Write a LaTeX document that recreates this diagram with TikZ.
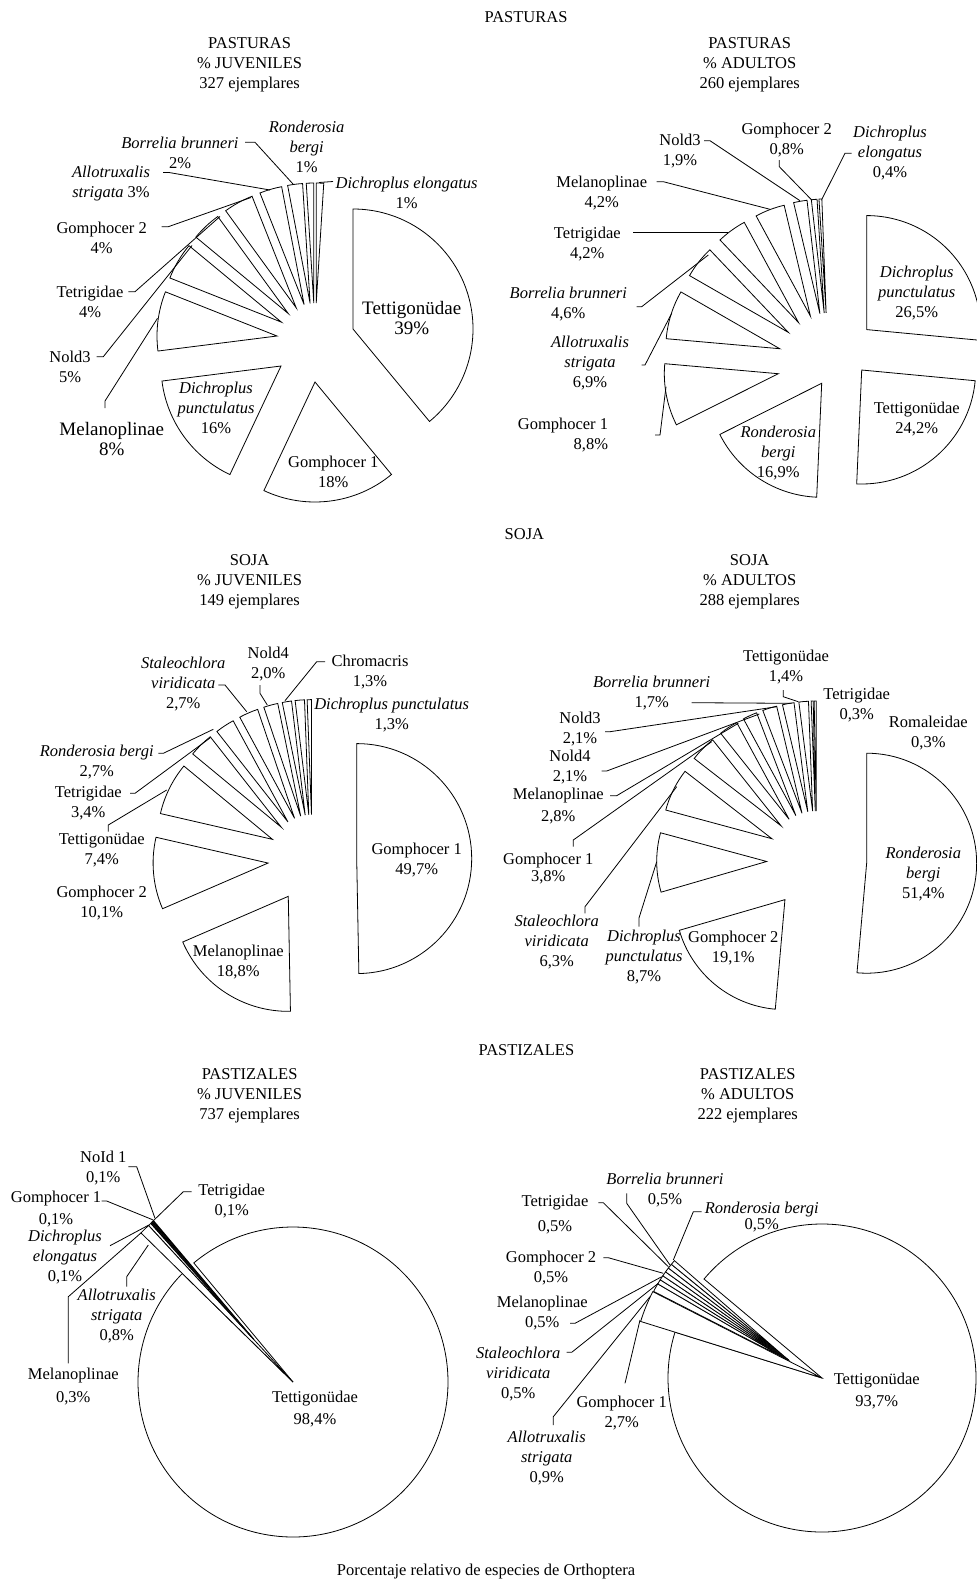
\documentclass[tikz,border=0pt]{standalone}
\usepackage{fontspec}
\setmainfont{Liberation Serif}
\usetikzlibrary{calc}
\tikzstyle{wedge} = [draw, fill=white, line width=0.8pt, line join=miter]
\tikzstyle{leader} = [draw, line width=0.8pt]
\tikzstyle{lbl} = [align=center, inner sep=0pt, font=\fontsize{16.5}{20}\selectfont]
\tikzstyle{lblbig} = [align=center, inner sep=0pt, font=\fontsize{19}{20}\selectfont]

% slice: [radius]{apex}{from %}{to %}, clockwise from 12 o'clock
\newcommand{\pslice}[4][\pierad]{%
  \draw[wedge] (#2) -- ++({90-\pierot-3.6*#3}:#1pt)
    arc[start angle={90-\pierot-3.6*#3}, end angle={90-\pierot-3.6*#4}, radius=#1pt] -- cycle;}
% slice pushed out from (ctr) along its middle
\newcommand{\xslice}[2]{\pslice{$(ctr)+({90-\pierot-1.8*(#1+#2)}:\piedex pt)$}{#1}{#2}}
\def\pierad{120}
\def\piedex{39}
\def\pierot{0}

\begin{document}
\begin{tikzpicture}[x=1pt, y=1pt]
\useasboundingbox (0,0) rectangle (977,-1585);
\fill[white] (0,0) rectangle (977,-1585);
\clip (0,0) rectangle (977,-1585);

% titles
\node[lbl] (t0) at (526,-17) {PASTURAS};
\node[lbl] (t1) at (249.6,-64.7) {PASTURAS\\\% JUVENILES\\327 ejemplares};
\node[lbl] (t2) at (749.7,-64.7) {PASTURAS\\\% ADULTOS\\260 ejemplares};
\node[lbl] (t3) at (524.4,-534.5) {SOJA};
\node[lbl] (t4) at (249.6,-582) {SOJA\\\% JUVENILES\\149 ejemplares};
\node[lbl] (t5) at (749.7,-582) {SOJA\\\% ADULTOS\\288 ejemplares};
\node[lbl] (t6) at (526.4,-1049.8) {PASTIZALES};
\node[lbl] (t7) at (249.6,-1095.3) {PASTIZALES\\\% JUVENILES\\737 ejemplares};
\node[lbl] (t8) at (747.7,-1095.3) {PASTIZALES\\\% ADULTOS\\222 ejemplares};
\node[lbl] (cap) at (486,-1572) {Porcentaje relativo de especies de Orthoptera};

% PASTURAS juveniles
\coordinate (ctr) at (315,-342);
\def\pierad{120}\def\piedex{39}\def\pierot{0}
\pslice{353,-329}{0}{39}
\pslice{315,-382}{39}{57}
\pslice{281,-366}{57}{73}
\pslice{277,-336}{73}{81}
\xslice{81}{86} \xslice{86}{90} \xslice{90}{94} \xslice{94}{97}
\xslice{97}{99} \xslice{99}{100} \xslice{100}{101}

\node[lbl] (p1rb) at (306.7,-146.7) {\textit{Ronderosia}\\\textit{bergi}\\1\%};
\node[lbl] (p1bb) at (180,-153) {\textit{Borrelia brunneri}\\2\%};
\node[lbl] (p1as) at (111,-183.3) {\textit{Allotruxalis}\\\textit{strigata} 3\%};
\node[lbl] (p1g2) at (101.7,-238.3) {Gomphocer 2\\4\%};
\node[lbl] (p1te) at (90,-301.7) {Tetrigidae\\4\%};
\node[lbl] (p1n3) at (70,-366.7) {Nold3\\5\%};
\node[lblbig] (p1me) at (111.7,-439) {Melanoplinae\\8\%};
\node[lblbig] (p1tt) at (411.7,-318.3) {Tettigonüdae\\39\%};
\node[lbl] (p1g1) at (333.3,-471.7) {Gomphocer 1\\18\%};
\node[lbl] (p1dp) at (216,-408.3) {\textit{Dichroplus}\\\textit{punctulatus}\\16\%};
\node[lbl] (p1de) at (406.7,-192.5) {\textit{Dichroplus elongatus}\\1\%};

\coordinate (p1bbs) at (245,-142.3); \coordinate (p1bbe) at (293,-184);
\coordinate (p1ass) at (163,-172.5); \coordinate (p1ase) at (270,-190);
\coordinate (p1g2s) at (161.7,-226.7); \coordinate (p1g2e) at (251,-197.5);
\coordinate (p1tes) at (128.3,-291.7); \coordinate (p1tee) at (220,-216.5);
\coordinate (p1n3s) at (96.7,-356.7); \coordinate (p1n3e) at (192,-245.5);
\coordinate (p1mes) at (105,-408); \coordinate (p1mee) at (157.5,-318.3);
\coordinate (p1des) at (333,-181.5); \coordinate (p1dee) at (319,-182.5);
\path[leader] (p1bbs) -- ++(10,0) -- (p1bbe);
\path[leader] (p1ass) -- ++(6,0) -- (p1ase);
\path[leader] (p1g2s) -- ++(6.6,0) -- (p1g2e);
\path[leader] (p1tes) -- ++(6.7,0) -- (p1tee);
\path[leader] (p1n3s) -- ++(6.6,0) -- (p1n3e);
\path[leader] (p1mes) -- ++(0,7) -- (p1mee);
\path[leader] (p1des) -- (p1dee);

% PASTURAS adultos
\coordinate (ctr) at (828.7,-364.1);
\def\pierad{114}\def\piedex{51.3}
\xslice{0}{26.5}
\pslice{861.7,-370}{26.5}{50.7}
\pslice{821.7,-383.3}{50.7}{67.6}
\xslice{67.6}{76.4} \xslice{76.4}{83.3} \xslice{83.3}{87.9} \xslice{87.9}{92.1}
\xslice{92.1}{96.3} \xslice{96.3}{98.2} \xslice{98.2}{99.0} \xslice{99.0}{99.4}

\node[lbl] (p2n3) at (680,-150.8) {Nold3\\1,9\%};
\node[lbl] (p2g2) at (786.7,-140) {Gomphocer 2\\0,8\%};
\node[lbl] (p2de) at (890,-153.3) {\textit{Dichroplus}\\\textit{elongatus}\\0,4\%};
\node[lbl] (p2me) at (601.7,-193.3) {Melanoplinae\\4,2\%};
\node[lbl] (p2te) at (587.3,-244) {Tetrigidae\\4,2\%};
\node[lbl] (p2bb) at (568.3,-303.7) {\textit{Borrelia brunneri}\\4,6\%};
\node[lbl] (p2as) at (590,-363.3) {\textit{Allotruxalis}\\\textit{strigata}\\6,9\%};
\node[lbl, align=right, anchor=east] (p2g1) at (608.3,-435) {Gomphocer 1\\8,8\%};
\node[lbl] (p2dp) at (916.7,-292.8) {\textit{Dichroplus}\\\textit{punctulatus}\\26,5\%};
\node[lbl] (p2tt) at (916.7,-419.2) {Tettigonüdae\\24,2\%};
\node[lbl] (p2rb) at (778.3,-452.6) {\textit{Ronderosia}\\\textit{bergi}\\16,9\%};

\coordinate (p2n3s) at (704,-140.7); \coordinate (p2n3e) at (800,-200.7);
\coordinate (p2g2s) at (779.3,-160); \coordinate (p2g2e) at (811.7,-200);
\coordinate (p2des) at (851.7,-153.3); \coordinate (p2dee) at (822,-199);
\coordinate (p2mes) at (656.7,-181.7); \coordinate (p2mee) at (770,-209.3);
\coordinate (p2tes) at (633.3,-232.3); \coordinate (p2tee) at (728,-232.3);
\coordinate (p2bbs) at (636.7,-306.7); \coordinate (p2bbe) at (708.3,-255);
\coordinate (p2ass) at (641.7,-365); \coordinate (p2ase) at (671.7,-313.3);
\coordinate (p2g1s) at (655,-435); \coordinate (p2g1e) at (666,-386.7);
\path[leader] (p2n3s) -- ++(6,0) -- (p2n3e);
\path[leader] (p2g2s) -- ++(0,-6.7) -- (p2g2e);
\path[leader] (p2des) -- ++(-6.7,0) -- (p2dee);
\path[leader] (p2mes) -- ++(6.6,0) -- (p2mee);
\path[leader] (p2tes) -- (p2tee);
\path[leader] (p2bbs) -- ++(5,0) -- (p2bbe);
\path[leader] (p2ass) -- ++(3.3,0) -- (p2ase);
\path[leader] (p2g1s) -- ++(5,0) -- (p2g1e);

% SOJA juveniles
\coordinate (ctr) at (312.3,-859);
\def\pierad{115}\def\piedex{44.4}
\xslice{0}{49.7} \xslice{49.7}{68.5} \xslice{68.5}{78.6} \xslice{78.6}{86}
\xslice{86}{89.4} \xslice{89.4}{92.1} \xslice{92.1}{94.8} \xslice{94.8}{96.8}
\xslice{96.8}{98.1} \xslice{98.1}{99.4} \xslice{99.4}{100}

\node[lbl] (p3n4) at (268.3,-664) {Nold4\\2,0\%};
\node[lbl] (p3ch) at (370,-671.7) {Chromacris\\1,3\%};
\node[lbl] (p3sv) at (183.3,-684) {\textit{Staleochlora}\\\textit{viridicata}\\2,7\%};
\node[lbl] (p3dp) at (391.7,-715) {\textit{Dichroplus punctulatus}\\1,3\%};
\node[lbl] (p3rb) at (96.7,-762.5) {\textit{Ronderosia bergi}\\2,7\%};
\node[lbl] (p3te) at (88.3,-803.3) {Tetrigidae\\3,4\%};
\node[lbl] (p3tt) at (101.7,-850) {Tettigonüdae\\7,4\%};
\node[lbl] (p3g2) at (101.7,-903.3) {Gomphocer 2\\10,1\%};
\node[lbl] (p3me) at (238.3,-961.7) {Melanoplinae\\18,8\%};
\node[lbl] (p3g1) at (416.7,-860) {Gomphocer 1\\49,7\%};

\coordinate (p3n4s) at (260,-685); \coordinate (p3n4e) at (267.3,-705);
\coordinate (p3chs) at (325,-661.7); \coordinate (p3che) at (285,-700.7);
\coordinate (p3svs) at (218.3,-685); \coordinate (p3sve) at (246.7,-711.7);
\coordinate (p3rbs) at (158.3,-753.3); \coordinate (p3rbe) at (213.3,-729.3);
\coordinate (p3tes) at (130,-793.3); \coordinate (p3tee) at (210,-738);
\coordinate (p3tts) at (108.3,-831.7); \coordinate (p3tte) at (166.7,-790);
\path[leader] (p3n4s) -- ++(0,-8.3) -- (p3n4e);
\path[leader] (p3chs) -- ++(-8.3,0) -- (p3che);
\path[leader] (p3svs) -- ++(6.7,0) -- (p3sve);
\path[leader] (p3rbs) -- ++(5,0) -- (p3rbe);
\path[leader] (p3tes) -- ++(5,0) -- (p3tee);
\path[leader] (p3tts) -- ++(0,6.7) -- (p3tte);

% SOJA adultos
\coordinate (ctr) at (816.7,-861);
\def\pierad{110}\def\piedex{50}
\xslice{0}{51.4} \xslice{51.4}{70.5} \xslice{70.5}{79.2} \xslice{79.2}{85.5}
\xslice{85.5}{89.3} \xslice{89.3}{92.1} \xslice{92.1}{94.2} \xslice{94.2}{96.3}
\xslice{96.3}{98} \xslice{98}{99.4} \xslice{99.4}{99.7} \xslice{99.7}{100}

\node[lbl] (p4tt) at (786,-666.7) {Tettigonüdae\\1,4\%};
\node[lbl] (p4bb) at (651.7,-693.3) {\textit{Borrelia brunneri}\\1,7\%};
\node[lbl] (p4te) at (856.7,-705) {Tetrigidae\\0,3\%};
\node[lbl] (p4ro) at (928.3,-733.3) {Romaleidae\\0,3\%};
\node[lbl] (p4n3) at (580,-729.2) {Nold3\\2,1\%};
\node[lbl] (p4n4) at (570,-767.5) {Nold4\\2,1\%};
\node[lbl] (p4me) at (558.3,-805.8) {Melanoplinae\\[1.7pt]2,8\%};
\node[lbl] (p4g1) at (548.3,-868.3) {Gomphocer 1\\[-3pt]3,8\%};
\node[lbl] (p4sv) at (556.7,-942) {\textit{Staleochlora}\\\textit{viridicata}\\6,3\%};
\node[lbl] (p4dp) at (644,-956.7) {\textit{Dichroplus}\\\textit{punctulatus}\\8,7\%};
\node[lbl] (p4g2) at (733.3,-948.3) {Gomphocer 2\\19,1\%};
\node[lbl] (p4rb) at (923.3,-874.4) {\textit{Ronderosia}\\\textit{bergi}\\51,4\%};

\coordinate (p4tts) at (783.3,-690); \coordinate (p4tte) at (798.3,-701.7);
\coordinate (p4bbs) at (691.7,-702.7); \coordinate (p4bbe) at (791.7,-703.3);
\coordinate (p4n3s) at (605,-731.7); \coordinate (p4n3e) at (776.7,-706.7);
\coordinate (p4n4s) at (601.7,-771); \coordinate (p4n4e) at (759.3,-714);
\coordinate (p4mes) at (610,-795.7); \coordinate (p4mee) at (738.3,-723.3);
\coordinate (p4g1s) at (573.3,-846.7); \coordinate (p4g1e) at (711.7,-741.7);
\coordinate (p4svs) at (585,-913.3); \coordinate (p4sve) at (676.7,-786.7);
\coordinate (p4dps) at (639,-926.7); \coordinate (p4dpe) at (656.7,-861.7);
\path[leader] (p4tts) -- ++(0,-6.7) -- (p4tte);
\path[leader] (p4bbs) -- (p4bbe);
\path[leader] (p4n3s) -- ++(5,0) -- (p4n3e);
\path[leader] (p4n4s) -- ++(5,0) -- (p4n4e);
\path[leader] (p4mes) -- ++(6.7,0) -- (p4mee);
\path[leader] (p4g1s) -- ++(0,6.7) -- (p4g1e);
\path[leader] (p4svs) -- ++(0,6.6) -- (p4sve);
\path[leader] (p4dps) -- ++(0,8.7) -- (p4dpe);

% PASTIZALES juveniles
\def\pierad{155}\def\pierot{320.2}
\pslice{293,-1382}{0}{98.4}
\pslice[213]{293,-1382}{98.4}{99.2}
\pslice{253.7,-1339.3}{99.2}{99.5}
\pslice{253.7,-1339.3}{99.5}{99.6}
\pslice{253.7,-1339.3}{99.6}{99.7}
\pslice{253.7,-1339.3}{99.7}{99.8}
\pslice{253.7,-1339.3}{99.8}{99.9}

\node[lbl] (p5n1) at (103.3,-1168.3) {NoId 1\\0,1\%};
\node[lbl] (p5g1) at (56,-1209) {Gomphocer 1\\[1.7pt]0,1\%};
\node[lbl] (p5te) at (231.7,-1201.3) {Tetrigidae\\0,1\%};
\node[lbl] (p5de) at (65,-1257.2) {\textit{Dichroplus}\\\textit{elongatus}\\0,1\%};
\node[lbl] (p5as) at (116.7,-1316.1) {\textit{Allotruxalis}\\\textit{strigata}\\0,8\%};
\node[lbl] (p5me) at (73.3,-1386.7) {Melanoplinae\\[3pt]0,3\%};
\node[lbl] (p5tt) at (315,-1409.2) {Tettigonüdae\\[1.7pt]98,4\%};

\coordinate (p5n1s) at (128.3,-1166.7); \coordinate (p5n1e) at (155,-1218.3);
\coordinate (p5g1s) at (101.7,-1201); \coordinate (p5g1e) at (153.3,-1220);
\coordinate (p5tes) at (191.7,-1191.7); \coordinate (p5tee) at (151.7,-1222.3);
\coordinate (p5des) at (110,-1245.7); \coordinate (p5dee) at (148.3,-1225.3);
\coordinate (p5ass) at (126.7,-1286.7); \coordinate (p5ase) at (148.3,-1245);
\coordinate (p5mes) at (68.3,-1363.3); \coordinate (p5mee) at (141.7,-1232.3);
\path[leader] (p5n1s) -- ++(8.4,0) -- (p5n1e);
\path[leader] (p5g1s) -- ++(5,0) -- (p5g1e);
\path[leader] (p5tes) -- ++(-8.4,0) -- (p5tee);
\path[leader] (p5des) -- (p5dee);
\path[leader] (p5ass) -- ++(0,10) -- (p5ase);
\path[leader] (p5mes) -- ++(0,66.6) -- (p5mee);

% PASTIZALES adultos
\def\pierad{154}\def\pierot{310}
\pslice{822,-1378}{0}{93.7}
\pslice[190]{822,-1378}{93.7}{96.4}
\pslice[152]{789,-1360.5}{96.4}{97.3}
\pslice[152]{789,-1360.5}{97.3}{97.8}
\pslice[152]{789,-1360.5}{97.8}{98.3}
\pslice[152]{789,-1360.5}{98.3}{98.8}
\pslice[152]{789,-1360.5}{98.8}{99.3}
\pslice[152]{789,-1360.5}{99.3}{99.8}
\pslice[152]{789,-1360.5}{99.8}{100.3}

\node[lbl] (p6bb) at (665,-1190) {\textit{Borrelia brunneri}\\0,5\%};
\node[lbl] (p6te) at (555,-1214.2) {Tetrigidae\\[5pt]0,5\%};
\node[lbl] (p6rb) at (761.7,-1217.2) {\textit{Ronderosia bergi}\\[-4pt]0,5\%};
\node[lbl] (p6g2) at (551,-1268.3) {Gomphocer 2\\0,5\%};
\node[lbl] (p6me) at (542.3,-1313.3) {Melanoplinae\\0,5\%};
\node[lbl] (p6sv) at (518.3,-1373.9) {\textit{Staleochlora}\\\textit{viridicata}\\0,5\%};
\node[lbl] (p6as) at (546.7,-1458.4) {\textit{Allotruxalis}\\\textit{strigata}\\0,9\%};
\node[lbl] (p6g1) at (621.7,-1413.3) {Gomphocer 1\\2,7\%};
\node[lbl] (p6tt) at (876.7,-1390.8) {Tettigonüdae\\[1.7pt]93,7\%};

\coordinate (p6bbs) at (626.7,-1193.3); \coordinate (p6bbe) at (670,-1265);
\coordinate (p6tes) at (598.3,-1202.7); \coordinate (p6tee) at (668.3,-1266.7);
\coordinate (p6rbs) at (701.7,-1211.7); \coordinate (p6rbe) at (673.3,-1260);
\coordinate (p6g2s) at (603.3,-1257.7); \coordinate (p6g2e) at (663.3,-1273.3);
\coordinate (p6mes) at (570,-1323.3); \coordinate (p6mee) at (661.7,-1276.7);
\coordinate (p6svs) at (566.7,-1352.3); \coordinate (p6sve) at (658.3,-1283.3);
\coordinate (p6ass) at (553.3,-1425); \coordinate (p6ase) at (650,-1296.7);
\coordinate (p6g1s) at (625,-1383.3); \coordinate (p6g1e) at (640,-1320);
\path[leader] (p6bbs) -- ++(0,-10) -- (p6bbe);
\path[leader] (p6tes) -- ++(5,0) -- (p6tee);
\path[leader] (p6rbs) -- ++(-8.4,0) -- (p6rbe);
\path[leader] (p6g2s) -- ++(5,0) -- (p6g2e);
\path[leader] (p6mes) -- ++(5,0) -- (p6mee);
\path[leader] (p6svs) -- ++(5,0) -- (p6sve);
\path[leader] (p6ass) -- ++(0,8.3) -- (p6ase);
\path[leader] (p6g1s) -- (p6g1e);

\end{tikzpicture}
\end{document}
